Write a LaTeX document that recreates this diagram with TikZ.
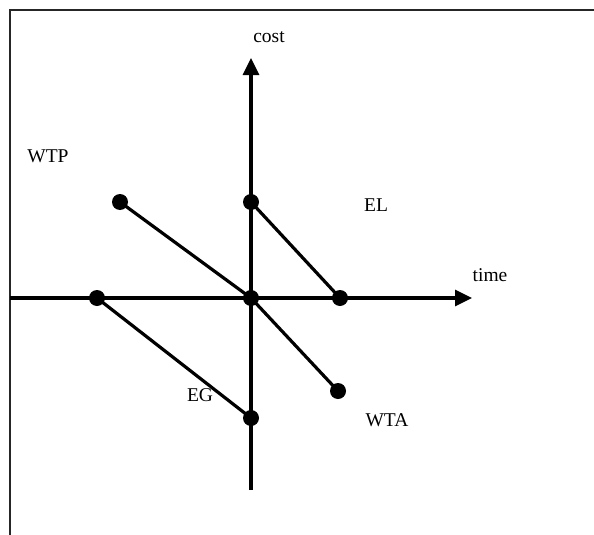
\documentclass[tikz,border=0pt]{standalone}
\usepackage{fontspec}
\setmainfont{Liberation Serif}
\usetikzlibrary{arrows.meta}
\begin{document}
\begin{tikzpicture}[x=1pt,y=-1pt,
  dot/.style={circle,fill=black,inner sep=0pt,minimum size=16pt},
  axis/.style={line width=3.2pt,-{Triangle[length=17pt,width=16pt]}},
  seg/.style={line width=3.2pt},
  lbl/.style={font=\fontsize{19.5}{19.5}\selectfont,inner sep=0pt}]
\useasboundingbox (0,0) rectangle (594,535);
\draw[line width=1.5pt,draw=black!85] (10,535) -- (10,10) -- (594,10);
% axes
\coordinate (xl) at (10,298);
\coordinate (xr) at (472,298);
\coordinate (yb) at (251,490);
\coordinate (yt) at (251,58);
\draw[axis] (xl) -- (xr);
\draw[axis] (yb) -- (yt);
% points
\node[dot] (wtp) at (120,202) {};
\node[dot] (c) at (251,202) {};
\node[dot] (o) at (251,298) {};
\node[dot] (t) at (340,298) {};
\node[dot] (l) at (97,298) {};
\node[dot] (b) at (251,418) {};
\node[dot] (wta) at (338,391) {};
% segments
\draw[seg] (wtp.center) -- (o.center);
\draw[seg] (o.center) -- (wta.center);
\draw[seg] (c.center) -- (t.center);
\draw[seg] (l.center) -- (b.center);
% labels
\node[lbl] (lcost) at (269,37) {cost};
\node[lbl] (ltime) at (490,275) {time};
\node[lbl] (lwtp) at (48,156) {WTP};
\node[lbl] (lel) at (376,205) {EL};
\node[lbl] (leg) at (200,395) {EG};
\node[lbl] (lwta) at (387,420) {WTA};
\end{tikzpicture}
\end{document}
